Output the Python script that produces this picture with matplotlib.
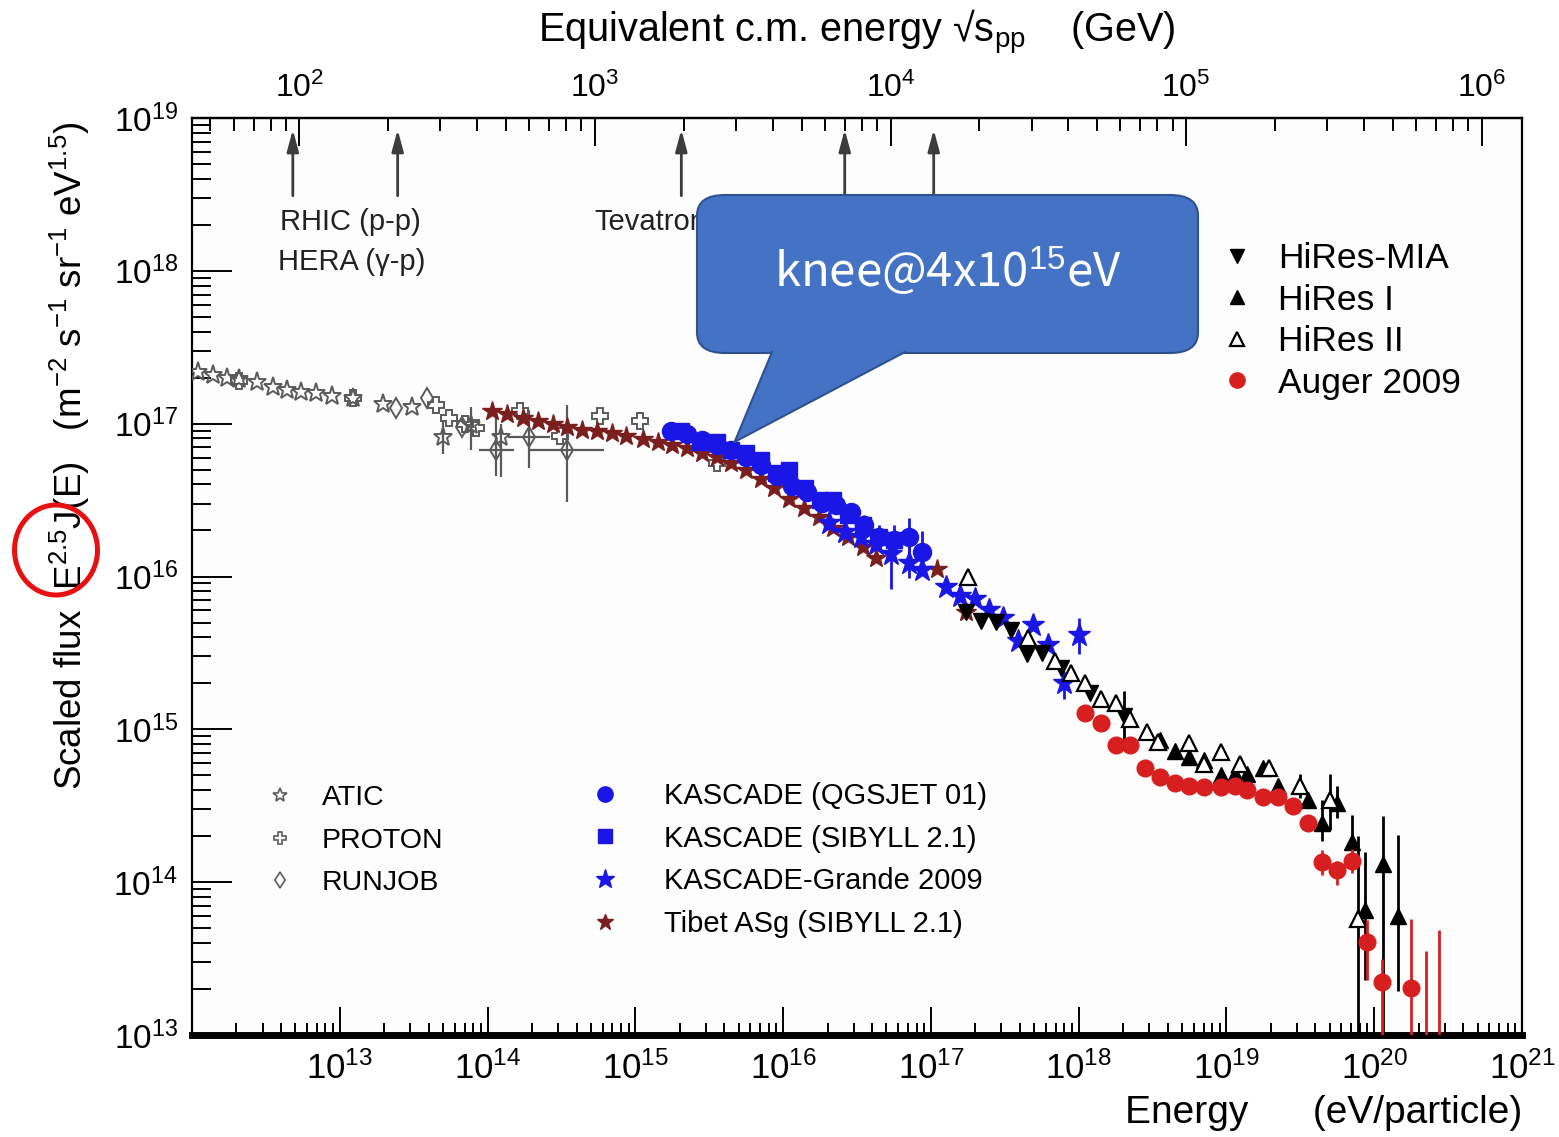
import numpy as np
import matplotlib
matplotlib.use("Agg")
import matplotlib.pyplot as plt
from matplotlib import font_manager
from matplotlib.lines import Line2D
from matplotlib.patches import FancyBboxPatch, Polygon, Ellipse
from matplotlib.ticker import LogLocator, LogFormatterMathtext, NullFormatter, FuncFormatter

# ---- data: log10(E / eV) and log10(E^2.5 J(E)) ----
atic_lgE = [12.04, 12.14, 12.24, 12.32, 12.44, 12.55, 12.64, 12.74, 12.84, 12.95,
            13.09, 13.29, 13.49, 13.70, 13.89, 14.09]
atic_lgF = [17.34, 17.32, 17.30, 17.29, 17.27, 17.24, 17.22, 17.21, 17.20, 17.18,
            17.17, 17.13, 17.11, 16.91, 16.99, 16.91]
atic_err_lo = [0, 0, 0, 0, 0, 0, 0, 0, 0, 0, 0, 0, 0, 0.11, 0.16, 0.26]
atic_err_hi = [0, 0, 0, 0, 0, 0, 0, 0, 0, 0, 0, 0, 0, 0.11, 0.12, 0.09]

proton_lgE = [12.32, 13.09, 13.65, 13.74, 13.85, 13.92, 14.22, 14.49, 14.76, 15.03, 15.55]
proton_lgF = [17.28, 17.17, 17.12, 17.04, 17.00, 16.97, 17.08, 16.92, 17.05, 17.02, 16.74]

runjob_lgE = [13.38, 13.59, 13.83, 14.06, 14.28, 14.54]
runjob_lgF = [17.10, 17.17, 16.98, 16.83, 16.91, 16.83]
runjob_err_lo = [0, 0, 0, 0.17, 0.20, 0.34]
runjob_err_hi = [0, 0, 0, 0.26, 0.18, 0.29]
runjob_xerr = [0, 0, 0, 0.12, 0.14, 0.25]

tibet_lgE = [14.03, 14.13, 14.24, 14.34, 14.44, 14.54, 14.64, 14.74, 14.84, 14.94,
             15.05, 15.15, 15.25, 15.35, 15.45, 15.55, 15.65, 15.75, 15.85, 15.94,
             16.04, 16.14, 16.24, 16.34, 16.44, 16.54, 16.63, 17.04, 17.24]
tibet_lgF = [17.08, 17.06, 17.04, 17.02, 17.00, 16.98, 16.96, 16.95, 16.94, 16.92,
             16.90, 16.88, 16.86, 16.84, 16.81, 16.78, 16.74, 16.70, 16.64, 16.58,
             16.51, 16.45, 16.39, 16.32, 16.26, 16.19, 16.12, 16.05, 15.77]

kq_lgE = [15.24, 15.35, 15.45, 15.55, 15.65, 15.75, 15.85, 15.96, 16.06, 16.16,
          16.26, 16.36, 16.46, 16.55, 16.65, 16.75, 16.85, 16.94]
kq_lgF = [16.95, 16.93, 16.89, 16.86, 16.83, 16.78, 16.73, 16.66, 16.59, 16.55,
          16.48, 16.47, 16.42, 16.34, 16.26, 16.24, 16.26, 16.16]
kq_err = [0, 0, 0, 0, 0, 0, 0, 0, 0, 0, 0, 0, 0.05, 0.06, 0.08, 0.10, 0.12, 0.14]

ks_lgE = [15.31, 15.44, 15.55, 15.65, 15.75, 15.85, 15.95, 16.04, 16.15, 16.25,
          16.34, 16.44, 16.54, 16.65, 16.75]
ks_lgF = [16.95, 16.88, 16.88, 16.83, 16.81, 16.76, 16.68, 16.70, 16.58, 16.50,
          16.50, 16.40, 16.34, 16.26, 16.24]

kg_lgE = [16.31, 16.42, 16.53, 16.63, 16.73, 16.85, 16.94, 17.10, 17.20, 17.30,
          17.39, 17.49, 17.59, 17.69, 17.79, 17.90, 18.00]
kg_lgF = [16.35, 16.29, 16.26, 16.21, 16.15, 16.09, 16.04, 15.93, 15.87, 15.85,
          15.78, 15.73, 15.58, 15.68, 15.55, 15.30, 15.62]
kg_err_lo = [0, 0, 0, 0, 0.23, 0.10, 0, 0, 0, 0, 0, 0, 0, 0, 0, 0.10, 0.13]
kg_err_hi = [0, 0, 0, 0, 0.10, 0.10, 0, 0, 0, 0, 0, 0, 0, 0, 0, 0.07, 0.11]

mia_lgE = [17.24, 17.34, 17.44, 17.54, 17.65, 17.75, 17.88, 18.08, 18.31]
mia_lgF = [15.77, 15.71, 15.70, 15.65, 15.49, 15.50, 15.40, 15.24, 15.09]
mia_err = [0, 0, 0, 0, 0, 0, 0, 0, 0.16]

hr1_lgE = [18.55, 18.65, 18.75, 18.85, 18.96, 19.06, 19.14, 19.25, 19.35, 19.55,
           19.65, 19.75, 19.85, 19.94, 20.06, 20.16]
hr1_lgF = [14.93, 14.86, 14.82, 14.80, 14.70, 14.71, 14.71, 14.75, 14.63, 14.54,
           14.39, 14.52, 14.26, 13.82, 14.12, 13.78]
hr1_err_lo = [0, 0, 0, 0, 0, 0, 0, 0, 0, 0, 0.12, 0.10, 0.08, 0.46, 1.60, 0.49]
hr1_err_hi = [0, 0, 0, 0, 0, 0, 0, 0, 0, 0, 0.15, 0.11, 0.18, 0.38, 0.31, 0.53]

hr2_lgE = [17.25, 17.66, 17.84, 17.95, 18.04, 18.15, 18.25, 18.35, 18.46, 18.54,
           18.75, 18.85, 18.96, 19.09, 19.29, 19.50, 19.70, 19.89]
hr2_lgF = [16.00, 15.60, 15.45, 15.37, 15.30, 15.20, 15.17, 15.07, 14.98, 14.92,
           14.91, 14.77, 14.85, 14.77, 14.75, 14.63, 14.54, 13.76]
hr2_err_lo = [0.04, 0, 0, 0, 0, 0, 0, 0, 0, 0, 0, 0, 0, 0, 0, 0.08, 0.20, 1.30]
hr2_err_hi = [0.05, 0, 0, 0, 0, 0, 0, 0, 0, 0, 0, 0, 0, 0, 0, 0.08, 0.17, 0.54]

auger_lgE = [18.04, 18.15, 18.25, 18.35, 18.45, 18.55, 18.65, 18.75, 18.85, 18.96,
             19.06, 19.14, 19.25, 19.35, 19.45, 19.55, 19.65, 19.75, 19.85, 19.95,
             20.05, 20.25]
auger_lgF = [15.11, 15.04, 14.90, 14.90, 14.75, 14.69, 14.65, 14.63, 14.62, 14.62,
             14.63, 14.60, 14.56, 14.56, 14.50, 14.39, 14.13, 14.08, 14.14, 13.61,
             13.35, 13.31]
auger_err_lo = [0] * 16 + [0.08, 0.10, 0.08, 0.25, 0.90, 0.90]
auger_err_hi = [0] * 16 + [0.08, 0.06, 0.08, 0.14, 0.15, 0.45]
# upper limits drawn as bare bars
auger_ul_lgE = [20.35, 20.44]
auger_ul_lgF = [13.55, 13.69]

# accelerator reach, sqrt(s) in GeV
collider_sqrt_s = [95, 215, 1960, 7000, 14000]

M_P = 0.938  # GeV

# ---- fonts ----
names = {f.name for f in font_manager.fontManager.ttflist}
FONT = "Liberation Sans Narrow" if "Liberation Sans Narrow" in names else "Liberation Sans"
plt.rcParams["font.family"] = [FONT, "DejaVu Sans"]
plt.rcParams["mathtext.fontset"] = "custom"
plt.rcParams["mathtext.rm"] = FONT
plt.rcParams["mathtext.it"] = FONT
plt.rcParams["mathtext.bf"] = FONT
plt.rcParams["mathtext.sf"] = FONT

W, H = 1559, 1137
fig = plt.figure(figsize=(W / 100, H / 100), dpi=100)
ax = fig.add_axes([192 / W, 1 - 1035 / H, (1522 - 192) / W, (1035 - 118) / H])


def px(x, y):
    return x / W, 1 - y / H


def p10(a):
    return 10 ** np.asarray(a, dtype=float)


def yerr_of(lgF, lo, hi):
    f = p10(lgF)
    return [f - p10(np.asarray(lgF) - np.asarray(lo)), p10(np.asarray(lgF) + np.asarray(hi)) - f]


GRAY = "#5a5a5a"
BLUE = "#1a16e6"
TIBET = "#7a1e1e"
RED = "#d81f1f"

# ---- direct measurements ----
ax.errorbar(p10(atic_lgE), p10(atic_lgF), yerr=yerr_of(atic_lgF, atic_err_lo, atic_err_hi),
            fmt="*", ms=14, mfc="none", mec=GRAY, mew=1.4, ecolor=GRAY, elinewidth=1.6, zorder=3)
ax.plot(p10(proton_lgE), p10(proton_lgF), "P", ms=12, mfc="none", mec=GRAY, mew=1.4, ls="none", zorder=3)
rj_x = p10(runjob_lgE)
rj_xerr = [rj_x - p10(np.asarray(runjob_lgE) - np.asarray(runjob_xerr)),
           p10(np.asarray(runjob_lgE) + np.asarray(runjob_xerr)) - rj_x]
ax.errorbar(rj_x, p10(runjob_lgF), yerr=yerr_of(runjob_lgF, runjob_err_lo, runjob_err_hi),
            xerr=rj_xerr, fmt="d", ms=10, mfc="none", mec=GRAY, mew=1.4, ecolor=GRAY,
            elinewidth=1.6, zorder=3)

# ---- air shower experiments ----
ax.plot(p10(tibet_lgE), p10(tibet_lgF), "*", ms=15, color=TIBET, ls="none", zorder=4)
ax.errorbar(p10(kq_lgE), p10(kq_lgF), yerr=yerr_of(kq_lgF, kq_err, kq_err), fmt="o", ms=13,
            color=BLUE, elinewidth=2, zorder=5)
ax.plot(p10(ks_lgE), p10(ks_lgF), "s", ms=11, color=BLUE, ls="none", zorder=5)
ax.errorbar(p10(kg_lgE), p10(kg_lgF), yerr=yerr_of(kg_lgF, kg_err_lo, kg_err_hi), fmt="*",
            ms=17, color=BLUE, elinewidth=2, zorder=5)

ax.errorbar(p10(mia_lgE), p10(mia_lgF), yerr=yerr_of(mia_lgF, mia_err, mia_err), fmt="v",
            ms=11, color="black", elinewidth=2, zorder=6)
ax.errorbar(p10(hr1_lgE), p10(hr1_lgF), yerr=yerr_of(hr1_lgF, hr1_err_lo, hr1_err_hi), fmt="^",
            ms=11, color="black", elinewidth=2, zorder=6)
ax.errorbar(p10(hr2_lgE), p10(hr2_lgF), yerr=yerr_of(hr2_lgF, hr2_err_lo, hr2_err_hi), fmt="^",
            ms=11, mfc="white", mec="black", mew=1.6, ecolor="black", elinewidth=2, zorder=6)
ax.errorbar(p10(auger_lgE), p10(auger_lgF), yerr=yerr_of(auger_lgF, auger_err_lo, auger_err_hi),
            fmt="o", ms=12, color=RED, elinewidth=2, zorder=7)
ax.vlines(p10(auger_ul_lgE), 1e12, p10(auger_ul_lgF), color=RED, lw=2, zorder=7)

# ---- axes ----
ax.set_xscale("log")
ax.set_yscale("log")
ax.set_xlim(1e12, 1e21)
ax.set_ylim(1e13, 1e19)
ax.set_facecolor("#fdfdfd")

for s in ("left", "top", "right"):
    ax.spines[s].set_linewidth(1.6)
ax.spines["bottom"].set_linewidth(5)

mathfmt = LogFormatterMathtext()


def energy_label(v, pos):
    # the lower-left corner decade stays unlabelled
    if v < 5e12:
        return ""
    return mathfmt(v, pos)


ax.xaxis.set_major_locator(LogLocator(base=10, numticks=20))
ax.xaxis.set_minor_locator(LogLocator(base=10, subs=np.arange(2, 10), numticks=20))
ax.yaxis.set_major_locator(LogLocator(base=10, numticks=20))
ax.yaxis.set_minor_locator(LogLocator(base=10, subs=np.arange(2, 10), numticks=20))
ax.xaxis.set_major_formatter(FuncFormatter(energy_label))
ax.xaxis.set_minor_formatter(NullFormatter())
ax.yaxis.set_minor_formatter(NullFormatter())

ax.tick_params(axis="x", which="both", direction="in", top=False, bottom=True, width=1.4,
               labelsize=25, pad=12)
ax.tick_params(axis="x", which="major", length=20)
ax.tick_params(axis="x", which="minor", length=9)
ax.tick_params(axis="y", which="both", direction="in", left=True, right=False, width=1.4,
               labelsize=24, pad=10)
ax.tick_params(axis="y", which="major", length=29)
ax.tick_params(axis="y", which="minor", length=14)


def e_to_sqrts(e):
    e = np.asarray(e, dtype=float)
    return np.sqrt(2.0 * M_P * np.clip(e, 1e-30, None) / 1e9)


def sqrts_to_e(s):
    s = np.asarray(s, dtype=float)
    return s ** 2 * 1e9 / (2.0 * M_P)


sec = ax.secondary_xaxis("top", functions=(e_to_sqrts, sqrts_to_e))
sec.xaxis.set_major_locator(LogLocator(base=10, numticks=20))
sec.xaxis.set_minor_locator(LogLocator(base=10, subs=np.arange(2, 10), numticks=20))
sec.xaxis.set_major_formatter(LogFormatterMathtext())
sec.xaxis.set_minor_formatter(NullFormatter())
sec.tick_params(axis="x", which="both", direction="in", width=1.4, labelsize=23, pad=10)
sec.tick_params(axis="x", which="major", length=20)
sec.tick_params(axis="x", which="minor", length=9)
sec.spines["top"].set_linewidth(1.6)

# ---- collider arrows ----
arrow_top = 8.4e18
arrow_base = 3.1e18
for s in collider_sqrt_s:
    e = sqrts_to_e(s)
    ax.annotate("", xy=(e, arrow_top), xytext=(e, arrow_base),
                arrowprops=dict(arrowstyle="-|>,head_length=1.3,head_width=0.35",
                                color="#3c3c3c", lw=2, shrinkA=0, shrinkB=0), zorder=2)
fig.text(*px(350, 222), "RHIC (p-p)", fontsize=21, ha="center", va="center", color="#222")
fig.text(*px(352, 262), "HERA (\u03b3-p)", fontsize=21, ha="center", va="center", color="#222")
fig.text(*px(594, 222), "Tevatron", fontsize=21, ha="left", va="center", color="#222")

# ---- axis titles ----
fig.text(*px(70, 456), r"Scaled flux  E$^{2.5}$J(E)   (m$^{-2}$ s$^{-1}$ sr$^{-1}$ eV$^{1.5}$)",
         rotation=90, fontsize=26.5, ha="center", va="center")
fig.text(*px(857, 32), "Equivalent c.m. energy \u221as$_{\\mathrm{pp}}$    (GeV)",
         fontsize=28.5, ha="center", va="center")
fig.text(*px(1522, 1113), "Energy      (eV/particle)", fontsize=28, ha="right", va="center")

# ---- legends ----
def handle(marker, ms, **kw):
    return Line2D([], [], marker=marker, ms=ms, ls="none", **kw)


h1 = [handle("*", 10, mfc="none", mec=GRAY, mew=1.2),
      handle("P", 9, mfc="none", mec=GRAY, mew=1.2),
      handle("d", 8, mfc="none", mec=GRAY, mew=1.2)]
fig.legend(h1, ["ATIC", "PROTON", "RUNJOB"], loc="upper left",
           bbox_to_anchor=px(266, 785), frameon=False, fontsize=20.5, handlelength=1.0,
           handletextpad=0.97, labelspacing=0.58, borderpad=0, borderaxespad=0)

h2 = [handle("o", 11, color=BLUE), handle("s", 10, color=BLUE),
      handle("*", 14, color=BLUE), handle("*", 12, color=TIBET)]
fig.legend(h2, ["KASCADE (QGSJET 01)", "KASCADE (SIBYLL 2.1)", "KASCADE-Grande 2009",
                "Tibet ASg (SIBYLL 2.1)"], loc="upper left",
           bbox_to_anchor=px(590, 782), frameon=False, fontsize=21, handlelength=1.0,
           handletextpad=1.55, labelspacing=0.5, borderpad=0, borderaxespad=0)

h3 = [handle("v", 10, color="black"), handle("^", 10, color="black"),
      handle("^", 10, mfc="white", mec="black", mew=1.6), handle("o", 11, color=RED)]
fig.legend(h3, ["HiRes-MIA", "HiRes I", "HiRes II", "Auger 2009"], loc="upper left",
           bbox_to_anchor=px(1223, 242), frameon=False, fontsize=25.5, handlelength=0.8,
           handletextpad=0.75, labelspacing=0.24, borderpad=0, borderaxespad=0)

# ---- callout ----
BOX = "#4472c4"
EDGE = "#2f528f"
bx0, by0 = px(697, 353)
bx1, by1 = px(1198, 195)
box = FancyBboxPatch((bx0, by0), bx1 - bx0, by1 - by0, boxstyle="round,pad=0,rounding_size=0.018",
                     transform=fig.transFigure, fc=BOX, ec=EDGE, lw=1.5, zorder=20)
fig.patches.append(box)
knee_tip = (4.7e15, 7.6e16)
tip = fig.transFigure.inverted().transform(ax.transData.transform(knee_tip))
left_root = px(772, 352)
right_root = px(905, 352)
pointer = Polygon([left_root, tuple(tip), right_root], closed=True, transform=fig.transFigure,
                  fc=BOX, ec="none", zorder=21)
fig.patches.append(pointer)
for root in (left_root, right_root):
    fig.lines.append(Line2D([root[0], tip[0]], [root[1], tip[1]], transform=fig.transFigure,
                            color=EDGE, lw=1.5, zorder=22))
fig.text(*px(948, 272), "knee@4x10$^{15}$eV", fontsize=34, color="white", ha="center",
         va="center", family=["Noto Sans CJK JP", "DejaVu Sans"], zorder=23)

# ---- circled exponent ----
ring = Ellipse(px(56, 550), 83 / W, 90 / H, transform=fig.transFigure, fill=False,
               ec="#e81010", lw=3.6, zorder=30)
fig.patches.append(ring)

fig.savefig("out.png", dpi=100)
